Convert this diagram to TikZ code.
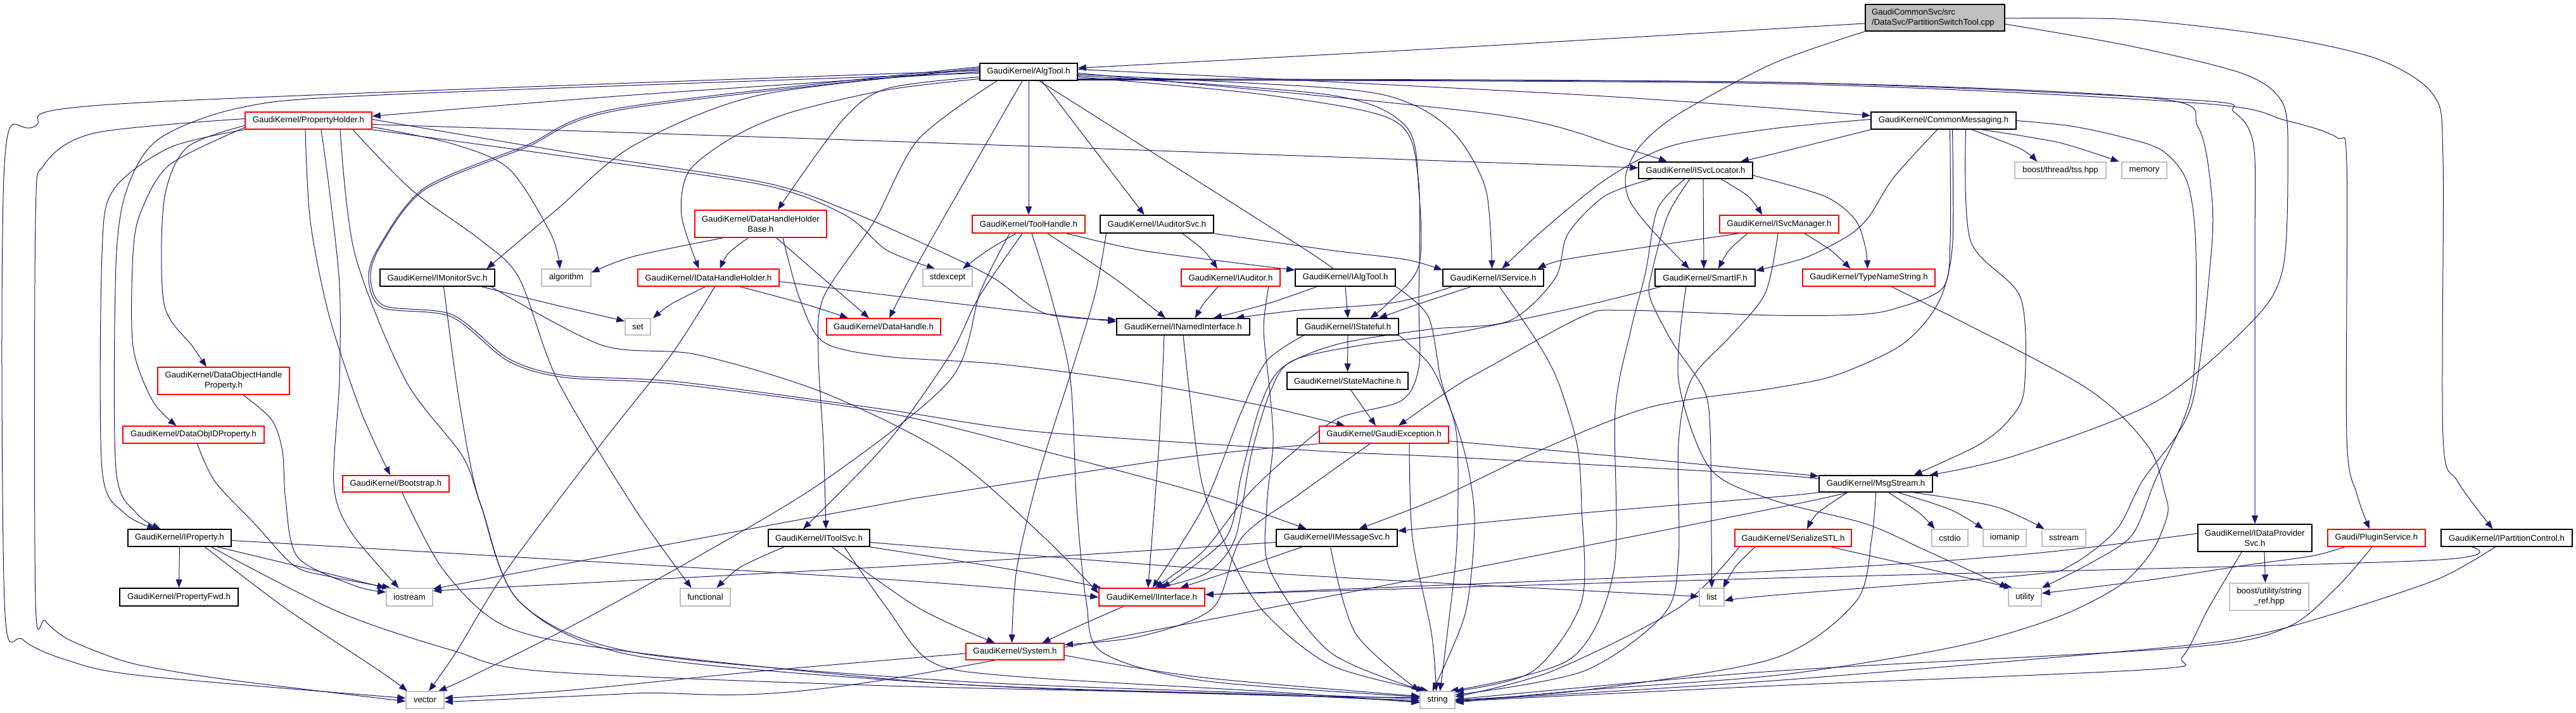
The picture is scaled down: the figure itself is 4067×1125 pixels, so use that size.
\documentclass[tikz,border=0pt]{standalone}
\usepackage{fontspec}
\setmainfont{Liberation Sans}
\usetikzlibrary{arrows.meta,backgrounds}
\definecolor{eb}{HTML}{191970}
\definecolor{lg}{HTML}{BFBFBF}
\newcommand\nfont{\fontsize{13.2}{16}\selectfont}
\newcommand\ed[1]{\draw[e] plot[smooth, tension=0.5] coordinates {#1};}
\tikzset{
  nb/.style={draw=black, line width=1.6pt, fill=white, inner sep=0pt, align=center, font=\nfont},
  nr/.style={nb, draw=red},
  ng/.style={nb, draw=lg, line width=1.4pt},
  e/.style={draw=eb, line width=1pt, -{Triangle[length=13pt,width=10pt]}},
}
\begin{document}
\begin{tikzpicture}[x=1pt,y=-1pt]
\useasboundingbox (0,0) rectangle (4067,1125);
% nodes
\node[nb, fill=lg, minimum width=220, minimum height=42, inner xsep=10pt, text width=200pt, align=left] (cpp) at (3055,28) {GaudiCommonSvc/src\\/DataSvc/PartitionSwitchTool.cpp};
\node[nb, minimum width=154, minimum height=27] (alg) at (1624,113.5) {GaudiKernel/AlgTool.h};
\node[nr, minimum width=200, minimum height=27] (ph) at (487,190.5) {GaudiKernel/PropertyHolder.h};
\node[nb, minimum width=229, minimum height=27] (cm) at (3068.5,190.5) {GaudiKernel/CommonMessaging.h};
\node[nb, minimum width=180, minimum height=26] (isl) at (2677,269) {GaudiKernel/ISvcLocator.h};
\node[ng, minimum width=144, minimum height=26] (tss) at (3253,269) {boost/thread/tss.hpp};
\node[ng, minimum width=71, minimum height=26] (mem) at (3385.5,269) {memory};
\node[nr, minimum width=178, minimum height=28] (th) at (1624,354) {GaudiKernel/ToolHandle.h};
\node[nb, minimum width=179, minimum height=28] (ias) at (1826.5,354) {GaudiKernel/IAuditorSvc.h};
\node[nr, minimum width=188, minimum height=28] (ism) at (2809,354) {GaudiKernel/ISvcManager.h};
\node[nr, minimum width=208, minimum height=43] (dhhb) at (1201,353.5) {GaudiKernel/DataHandleHolder\\Base.h};
\node[nb, minimum width=181, minimum height=27] (imon) at (690.5,438.5) {GaudiKernel/IMonitorSvc.h};
\node[ng, minimum width=78, minimum height=27] (algo) at (894,438.5) {algorithm};
\node[nr, minimum width=223, minimum height=27] (idhh) at (1118.5,438.5) {GaudiKernel/IDataHandleHolder.h};
\node[ng, minimum width=78, minimum height=27] (stdx) at (1496,438.5) {stdexcept};
\node[nr, minimum width=156, minimum height=27] (iaud) at (1943,438.5) {GaudiKernel/IAuditor.h};
\node[nb, minimum width=158, minimum height=27] (ialg) at (2124,438.5) {GaudiKernel/IAlgTool.h};
\node[nb, minimum width=159, minimum height=27] (isvc) at (2357.5,438.5) {GaudiKernel/IService.h};
\node[nb, minimum width=158, minimum height=27] (sif) at (2692,438.5) {GaudiKernel/SmartIF.h};
\node[nr, minimum width=209, minimum height=27] (tns) at (2950.5,438.5) {GaudiKernel/TypeNameString.h};
\node[ng, minimum width=40, minimum height=26] (nset) at (1007,516) {set};
\node[nr, minimum width=180, minimum height=26] (dh) at (1395,516) {GaudiKernel/DataHandle.h};
\node[nb, minimum width=210, minimum height=26] (inam) at (1868,516) {GaudiKernel/INamedInterface.h};
\node[nb, minimum width=160, minimum height=26] (ist) at (2128,516) {GaudiKernel/IStateful.h};
\node[nb, minimum width=191, minimum height=27] (sm) at (2127.5,601.5) {GaudiKernel/StateMachine.h};
\node[nr, minimum width=208, minimum height=43] (dohp) at (353,601.5) {GaudiKernel/DataObjectHandle\\Property.h};
\node[nr, minimum width=223, minimum height=27] (doid) at (305.5,686.5) {GaudiKernel/DataObjIDProperty.h};
\node[nr, minimum width=204, minimum height=27] (gex) at (2185,686.5) {GaudiKernel/GaudiException.h};
\node[nr, minimum width=168, minimum height=26] (boot) at (625,764) {GaudiKernel/Bootstrap.h};
\node[nb, minimum width=179, minimum height=26] (msg) at (2961.5,764) {GaudiKernel/MsgStream.h};
\node[nb, minimum width=163, minimum height=27] (iprop) at (283.5,849.5) {GaudiKernel/IProperty.h};
\node[nb, minimum width=160, minimum height=27] (itool) at (1293,849.5) {GaudiKernel/IToolSvc.h};
\node[nb, minimum width=191, minimum height=27] (imsg) at (2110.5,849.5) {GaudiKernel/IMessageSvc.h};
\node[nr, minimum width=184, minimum height=27] (sstl) at (2831,849.5) {GaudiKernel/SerializeSTL.h};
\node[ng, minimum width=57, minimum height=27] (cstd) at (3078.5,849.5) {cstdio};
\node[ng, minimum width=68, minimum height=27] (ioman) at (3165,849.5) {iomanip};
\node[ng, minimum width=69, minimum height=27] (sstr) at (3258.5,849.5) {sstream};
\node[nb, minimum width=180, minimum height=43] (idp) at (3560,849.5) {GaudiKernel/IDataProvider\\Svc.h};
\node[nr, minimum width=154, minimum height=27] (plug) at (3752,849.5) {Gaudi/PluginService.h};
\node[nb, minimum width=207, minimum height=27] (ipc) at (3957.5,849.5) {GaudiKernel/IPartitionControl.h};
\node[nb, minimum width=187, minimum height=28] (pfwd) at (282.5,943) {GaudiKernel/PropertyFwd.h};
\node[ng, minimum width=73, minimum height=28] (ios) at (646.5,943) {iostream};
\node[ng, minimum width=79, minimum height=28] (func) at (1113.5,943) {functional};
\node[nr, minimum width=167, minimum height=28] (iif) at (1818.5,943) {GaudiKernel/IInterface.h};
\node[ng, minimum width=39, minimum height=28] (nlist) at (2702.5,943) {list};
\node[ng, minimum width=52, minimum height=28] (util) at (3197,943) {utility};
\node[ng, minimum width=125, minimum height=43] (sref) at (3582.5,942.5) {boost/utility/string\\\_ref.hpp};
\node[nr, minimum width=155, minimum height=26] (sys) at (1602.5,1029) {GaudiKernel/System.h};
\node[ng, minimum width=60, minimum height=27] (vec) at (671,1105.5) {vector};
\node[ng, minimum width=55, minimum height=27] (str) at (2269.5,1105.5) {string};

\begin{pgfonlayer}{background}
\fill[white] (0,0) rectangle (4067,1125);
% ---- cpp
\ed{([yshift=-9]cpp.west) (2300,75) ([yshift=6]alg.east)}
\ed{(cpp.south west) (2800,100) (2650,180) (2590,230) (2567,275) (2572,315) (2605,360) ([xshift=-25]sif.north)}
\ed{([yshift=-10]cpp.east) (3365,73) (3543,117) (3604,163) (3612,250) (3605,420) (3560,503) (3406,633) (3180,720) ([xshift=85]msg.north)}
\ed{([yshift=-1]cpp.east) (3366,31) (3592,57) (3753,93) (3842,150) (3857,250) (3857,690) (3880,760) ([xshift=-22]ipc.north)}
% ---- AlgTool
\draw[e] (alg.south) -- (th.north);
\draw[e] ([xshift=21]alg.south) -- ([xshift=-20]ias.north);
\ed{([yshift=-8]alg.west) (1400,140) (1330,190) ([xshift=27]dhhb.north)}
\ed{([yshift=-11]alg.west) (1400,142) (1250,177) (1160,215) (1088,270) (1076,340) ([xshift=-15]idhh.north)}
\ed{([xshift=-10]alg.south) (1458,400) ([xshift=9]dh.north)}
\ed{([xshift=17]alg.south) (2070,400) ([xshift=-28]ialg.north)}
\ed{([yshift=-4]alg.east) (2114,140) (2230,165) (2300,215) (2346,300) ([xshift=-2]isvc.north)}
\ed{([yshift=-2]alg.east) (2355,180) (2561,233) ([xshift=-45]isl.north)}
\ed{([yshift=4]alg.east) (2500,150) ([yshift=8]cm.west)}
\ed{(alg.west) (1000,150) ([yshift=7]ph.east)}
\ed{([yshift=2]alg.west) (205,163) (54,200) (7,260) (7,950) (36,1010) (107,1043) (223,1067) ([yshift=3]vec.west)}
\ed{([yshift=4]alg.west) (1200,150) (1000,230) (880,330) ([xshift=78]imon.north)}
\ed{([yshift=-2]alg.west) (600,150) (380,170) (250,220) (200,300) (183,420) (183,740) (215,810) ([xshift=-30]iprop.north)}
\ed{([xshift=-50]alg.south) (1450,220) (1380,350) (1300,470) (1292,560) (1300,700) ([xshift=11]itool.north)}
\ed{([yshift=-8]alg.east) (2000,150) (2200,190) (2239,280) (2240,480) (2240,580) (2212,633) (2114,660) (2043,713) (1971,780) (1900,870) ([xshift=5]iif.north)}
\ed{([yshift=-6]alg.east) (2100,150) (2220,200) (2240,300) (2240,420) (2190,480) ([xshift=35]ist.north)}
\ed{([yshift=6]alg.west) (982,173) (830,233) (670,300) (600,390) (585,440) (607,483) (714,497) (804,567) (893,593) (1071,603) (1400,647) (1641,682) (2079,712) (2293,722) (2800,750) ([yshift=6]msg.west)}
\ed{([yshift=8]alg.west) (982,170) (830,230) (670,297) (598,390) (582,440) (604,486) (712,500) (802,570) (891,596) (1071,607) (1400,652) (1650,713) (1900,780) ([xshift=-48]imsg.north)}
\ed{([yshift=-12]alg.east) (2800,130) (3400,155) (3470,200) (3491,300) (3491,400) (3460,640) (3382,760) (3341,837) (3269,893) (3200,908) (2800,940) ([yshift=-6]nlist.east)}
\ed{([yshift=-11]alg.east) (2800,130) (3462,158) (3527,177) (3558,230) (3560,400) (idp.north)}
\ed{([yshift=-13]alg.east) (2800,132) (3471,163) (3608,190) (3689,217) (3705,260) (3705,690) (3721,780) ([xshift=-11]plug.north)}
% ---- PropertyHolder
\ed{([yshift=-6]ph.east) (1400,223) ([yshift=4]isl.west)}
\ed{([yshift=-10]ph.east) (714,227) (804,267) (870,370) ([xshift=-10]algo.north)}
\ed{(ph.south east) (893,247) (1205,292) (1335,340) (1400,395) ([xshift=-20]stdx.north)}
\ed{([yshift=-8]ph.west) (295,233) (259,317) (259,480) (304,547) ([xshift=-27]dohp.north)}
\ed{([yshift=-11]ph.west) (268,260) (223,333) (210,400) (210,547) (241,633) ([xshift=-27]doid.north)}
\ed{([xshift=-5]ph.south) (490,350) (520,500) (570,650) ([xshift=-9]boot.north)}
\ed{(ph.south west) (268,233) (179,300) (161,400) (161,740) (196,810) ([xshift=-38]iprop.north)}
\ed{([yshift=3]ph.west) (150,210) (70,260) (56,350) (56,947) (71,980) (103,1007) (156,1030) (219,1050) (357,1073) ([yshift=-2]vec.west)}
\ed{([xshift=20]ph.south) (520,300) (536,450) (536,600) (527,765) (554,840) ([xshift=-17]ios.north)}
\ed{([xshift=70]ph.south) (650,300) (760,380) (820,440) (880,600) (1000,800) ([xshift=-22]func.north)}
\ed{([yshift=2]ph.east) (893,240) (1205,288) (1340,333) (1480,395) (1570,440) (1650,495) ([yshift=11]inam.west)}
\ed{([xshift=50]ph.south) (560,400) (640,600) (730,720) (760,800) (820,950) (1000,1030) (1500,1075) (2000,1095) ([yshift=2]str.west)}
% ---- CommonMessaging
\ed{(cm.south west) (2800,243) ([xshift=71]isl.north)}
\ed{([xshift=45]cm.south) (3190,235) ([xshift=-37]tss.north)}
\ed{([xshift=60]cm.south) (3250,225) ([xshift=-40]mem.north)}
\ed{([yshift=2]cm.west) (2800,203) (2640,230) (2540,280) (2440,360) ([xshift=14]isvc.north)}
\ed{([xshift=-10]cm.south) (2990,280) (2950,343) (2917,373) (2850,407) ([yshift=11]sif.east)}
\ed{([xshift=10]cm.south) (3079,380) (3067,455) (2990,488) (2929,497) (2800,498) (2561,490) (2498,500) (2350,580) (2293,613) ([xshift=23]gex.north)}
\ed{([xshift=14]cm.south) (3083,380) (3069,457) (3042,506) (2994,550) (2897,593) (2800,613) (2605,643) (2427,713) (2275,785) ([xshift=35]imsg.north)}
\ed{([xshift=35]cm.south) (3111,380) (3190,470) (3196,613) (3172,663) (3123,703) ([xshift=60]msg.north)}
\ed{(cm.east) (3269,199) (3349,216) (3414,238) (3454,290) (3467,400) (3460,620) (3402,760) (3366,845) (3301,889) (util.north east)}
% ---- ISvcLocator
\ed{([xshift=40]isl.south) (2760,310) ([xshift=-27]ism.north)}
\draw[e] ([xshift=12]isl.south) -- ([xshift=-2]sif.north);
\ed{([yshift=-8]isl.east) (2881,310) (2929,347) (2945,390) ([xshift=-2]tns.north)}
\ed{([xshift=-9]isl.south) (2633,340) (2608,430) (2605,470) (2640,540) (2690,615) (2700,680) (2702,850) (nlist.north)}
\ed{([xshift=-70]isl.south) (2533,310) (2475,370) (2455,440) (2382,507) (2257,520) (2114,543) (2025,580) (1990,640) (1960,750) (1935,850) ([xshift=16]iif.north)}
\ed{([xshift=-17]isl.south) (2617,330) (2598,430) (2575,520) (2550,650) (2548,900) (2480,1040) ([xshift=20]str.north)}
% ---- ISvcManager
\ed{([xshift=-64]ism.south) (2600,390) (2470,410) ([xshift=70]isvc.north)}
\ed{([xshift=-50]ism.south) (2730,395) ([xshift=21]sif.north)}
\ed{([xshift=40]ism.south) (2890,395) ([xshift=-29]tns.north)}
\ed{([xshift=-2]ism.south) (2787,463) (2733,530) (2670,600) (2650,700) (2650,880) (2627,970) (2500,1060) ([yshift=8]str.east)}
% ---- ToolHandle
\ed{([xshift=-20]th.south) (1560,395) ([xshift=24]stdx.north)}
\ed{([xshift=60]th.south) (1800,395) (1950,415) ([yshift=12]ialg.west)}
\ed{([xshift=30]th.south) (1760,440) ([xshift=-28]inam.north)}
\ed{([xshift=-10]th.south) (1545,470) (1500,560) (1400,700) ([xshift=-25]itool.north)}
\ed{([xshift=-30]th.south) (1548,460) (1500,600) (1300,760) (1100,880) (900,990) (740,1070) ([xshift=21]vec.north)}
\ed{([xshift=5]th.south) (1660,470) (1690,600) (1700,800) (1715,950) (1740,1030) (1900,1075) ([yshift=5]str.west)}
% ---- IAuditorSvc
\ed{([xshift=40]ias.south) (1900,395) ([xshift=-21]iaud.north)}
\ed{(ias.south east) (2100,395) (2220,410) ([yshift=12]isvc.west)}
\ed{([xshift=-80]ias.south) (1730,460) (1700,560) (1640,750) (1605,900) ([xshift=-5]sys.north)}
% ---- DataHandleHolderBase
\ed{([xshift=-60]dhhb.south) (1000,405) ([yshift=8]algo.east)}
\ed{([xshift=-20]dhhb.south) (1150,400) ([xshift=18]idhh.north)}
\ed{([xshift=25]dhhb.south) (1300,440) ([xshift=-23]dh.north)}
\ed{([xshift=35]dhhb.south) (1262,470) (1300,540) (1400,563) (1578,575) (1793,603) (1990,640) ([xshift=-62]gex.north)}
% ---- IMonitorSvc
\ed{([xshift=70]imon.south) (870,480) ([yshift=9]nset.west)}
\ed{([xshift=85]imon.south) (950,545) (1100,560) (1300,620) (1500,720) (1650,850) ([yshift=6]iif.west)}
\ed{([xshift=10]imon.south) (720,600) (740,720) (760,800) (820,950) (1000,1035) (1500,1080) (2000,1097) ([yshift=-1]str.west)}
% ---- IDataHandleHolder
\ed{([xshift=-5]idhh.south) (1060,480) ([xshift=24]nset.north)}
\ed{([xshift=50]idhh.south) (1270,480) ([xshift=-56]dh.north)}
\ed{([yshift=-6]idhh.east) (1400,466) (1600,490) ([yshift=8]inam.west)}
\ed{([xshift=10]idhh.south) (1060,560) (950,700) (800,900) (720,1030) ([xshift=6]vec.north)}
% ---- IAuditor / IAlgTool / IService
\ed{([xshift=-20]iaud.south) (1900,480) ([xshift=19]inam.north)}
\ed{([xshift=60]iaud.south) (1995,520) (2005,620) (2010,700) (2000,800) (2005,900) (2100,1030) ([xshift=-20]str.north)}
\ed{([xshift=-45]ialg.south) (2000,480) ([xshift=48]inam.north)}
\draw[e] (ialg.south) -- (ist.north);
\ed{(ialg.south east) (2255,500) (2275,600) (2300,690) (2300,860) (2285,1000) ([xshift=4]str.north)}
\ed{([xshift=-65]isvc.south) (2200,478) (2050,490) ([xshift=83]inam.north)}
\ed{([xshift=-35]isvc.south) (2240,480) ([xshift=49]ist.north)}
\ed{([xshift=10]isvc.south) (2427,540) (2460,603) (2490,703) (2497,800) (2497,950) (2420,1060) (str.north east)}
% ---- SmartIF
\ed{([xshift=-70]sif.south) (2500,483) (2300,525) (2150,545) (2040,570) (2005,620) (1975,720) (1950,850) (1905,905) ([xshift=9]iif.north)}
\ed{([xshift=-30]sif.south) (2650,600) (2700,740) (2800,790) (2945,827) (3042,870) (util.north west)}
% ---- TypeNameString
\ed{([xshift=36]tns.south) (3285,607) (3390,703) (3418,780) (3422,813) (3398,870) (3349,923) (3260,970) (3147,1007) (3026,1033) (2800,1067) (2500,1090) ([yshift=-4]str.east)}
% ---- INamedInterface / IStateful / StateMachine
\ed{([xshift=-30]inam.south) (1830,700) ([xshift=-6]iif.north)}
\ed{(inam.south) (1895,750) (1930,850) (1990,960) (2100,1050) ([xshift=-14]str.north)}
\draw[e] (ist.south) -- (sm.north);
\ed{([xshift=-70]ist.south) (2000,570) (1960,650) (1900,800) ([xshift=1]iif.north)}
\ed{(ist.south east) (2260,580) (2300,673) (2320,750) (2328,833) (2313,970) ([xshift=-8]str.north)}
\draw[e] ([xshift=5]sm.south) -- ([xshift=-13]gex.north);
% ---- GaudiException
\ed{([yshift=-10]gex.east) (2600,725) ([yshift=12]msg.west)}
\ed{(gex.south west) (1864,723) (1489,780) (1400,795) (1000,870) ([yshift=13]ios.east)}
\ed{([xshift=-22]gex.south) (2052,780) (1960,850) (1915,960) (1800,1005) ([yshift=11]sys.east)}
\ed{([xshift=40]gex.south) (2230,850) (2260,1000) ([xshift=-2]str.north)}
% ---- Bootstrap
\ed{([xshift=10]boot.south) (700,900) (800,990) (1000,1030) (1500,1080) (2000,1098) ([yshift=4]str.west)}
% ---- MsgStream
\ed{(msg.south west) (2800,785) (2500,810) ([yshift=11]imsg.east)}
\ed{([xshift=-45]msg.south) (2870,810) ([xshift=22]sstl.north)}
\ed{([xshift=20]msg.south) (3030,810) ([xshift=-24]cstd.north)}
\ed{([xshift=35]msg.south) (3080,805) ([xshift=-34]ioman.north)}
\ed{([xshift=60]msg.south) (3150,800) ([xshift=-31]sstr.north)}
\ed{(msg.south) (2955,850) (2930,950) (2800,1040) (2500,1090) (str.east)}
\ed{([xshift=-75]msg.south) (2800,803) (1400,1073) (1000,1095) ([yshift=-3]vec.east)}
% ---- SerializeSTL
\ed{([xshift=-60]sstl.south) (2740,895) ([xshift=18]nlist.north)}
\ed{([xshift=60]sstl.south) (3050,900) ([xshift=-20]util.north)}
\ed{([xshift=-85]sstl.south) (2650,960) (2450,1060) ([yshift=5]str.east)}
% ---- IDataProviderSvc
\draw[e] ([xshift=15]idp.south) -- ([xshift=-6]sref.north);
\ed{([yshift=7]idp.west) (3200,875) (2800,902) ([yshift=4]iif.east)}
\ed{([xshift=-21]idp.south) (3487,960) (3446,1037) (3398,1057) (2800,1083) ([yshift=-2]str.east)}
% ---- PluginService
\ed{([xshift=-50]plug.south) (3650,878) (3543,893) (3400,915) ([yshift=6]util.east)}
\ed{([xshift=-7]plug.south) (3689,928) (3608,992) (3446,1023) (2800,1060) ([yshift=1]str.east)}
% ---- IPartitionControl
\ed{([xshift=-55]ipc.south) (3834,885) (3000,908) (2800,913) ([yshift=4]iif.east)}
\ed{([xshift=-18]ipc.south) (3850,914) (3689,968) (3560,1003) (3414,1023) (2800,1075) ([yshift=-1]str.east)}
% ---- IMessageSvc
\ed{([xshift=-55]imsg.south) (1950,900) ([xshift=45]iif.north)}
\ed{([xshift=-10]imsg.south) (2140,1000) (str.north west)}
\ed{([yshift=-7]imsg.west) (1400,895) ([yshift=10]ios.east)}
% ---- IToolSvc
\ed{([xshift=-55]itool.south) (1170,895) ([xshift=18]func.north)}
\ed{([yshift=-7]itool.east) (2000,905) ([yshift=1]nlist.west)}
\ed{(itool.south east) (1600,900) ([xshift=-80]iif.north)}
\ed{([xshift=20]itool.south) (1450,960) ([xshift=-32]sys.north)}
\ed{([xshift=40]itool.south) (1400,960) (1470,1045) (1600,1068) (2000,1092) ([yshift=-4]str.west)}
% ---- IProperty
\draw[e] (iprop.south) -- (pfwd.north);
\ed{([xshift=60]iprop.south) (482,897) ([xshift=-38]ios.north)}
\ed{([xshift=40]iprop.south) (450,960) (600,1060) ([xshift=-28]vec.north)}
\ed{([xshift=50]iprop.south) (536,967) (714,1027) (857,1060) (1400,1083) (2000,1097) ([yshift=-3]str.west)}
\ed{([yshift=-4]iprop.east) (1400,915) (iif.west)}
% ---- DataObjectHandleProperty / DataObjIDProperty
\ed{([xshift=31]dohp.south) (429,663) (446,713) (451,790) (470,880) (560,925) ([yshift=8]ios.west)}
\ed{([xshift=6]doid.south) (339,760) (402,827) (464,893) (518,910) ([xshift=-30]ios.north)}
% ---- IInterface / System
\ed{([xshift=-45]iif.south) (1700,990) ([xshift=43]sys.north)}
\ed{([yshift=-3]sys.west) (1200,1060) (900,1090) ([yshift=3]vec.east)}
\ed{([yshift=-6]sys.east) (1900,1070) ([yshift=6]str.west)}
\end{pgfonlayer}
\end{tikzpicture}
\end{document}
